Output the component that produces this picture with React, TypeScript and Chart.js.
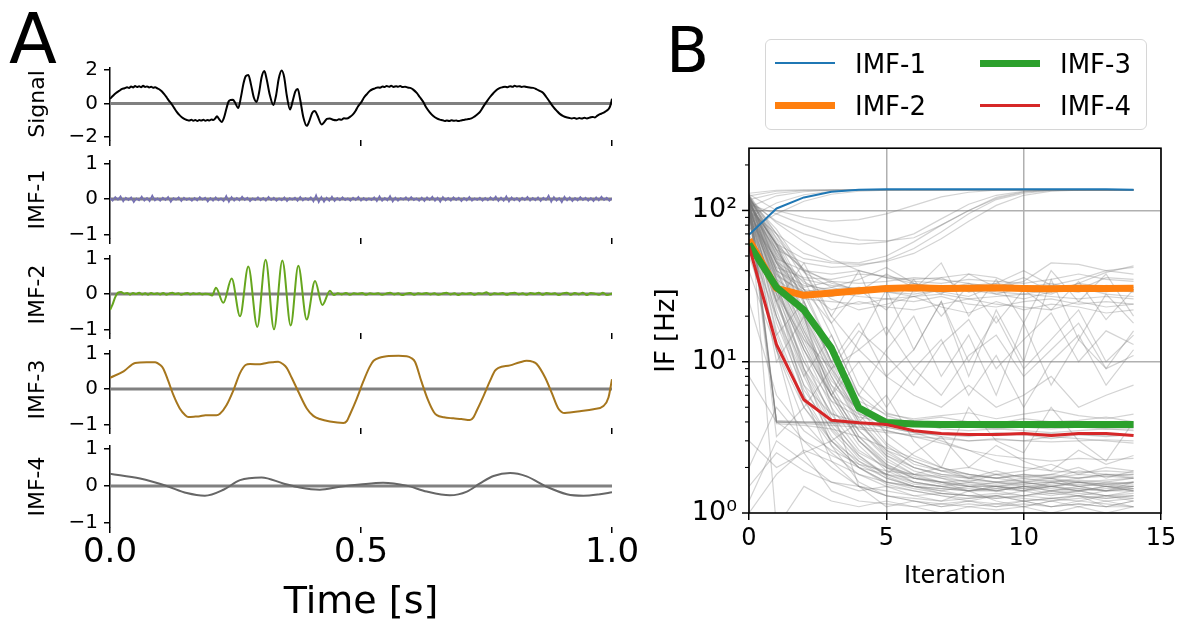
import React, { useEffect, useRef } from 'react';
import { Chart, registerables } from 'chart.js';
Chart.register(...registerables);

const FONT = "'DejaVu Sans', sans-serif";

// ---------------- Panel A data ----------------
const timeTicks = [0, 0.5, 1];
const signalTicks = [-2, 0, 2];
const imfTicks = [-1, 0, 1];

// [time (s), value]
const signalPoints = [
  [0, 0.27], [0.006, 0.45], [0.012, 0.62], [0.018, 0.74], [0.024, 0.86], [0.029, 0.9], [0.034, 0.96], [0.038, 0.92],
  [0.042, 1.0], [0.046, 0.95], [0.05, 1.03], [0.054, 0.97], [0.058, 1.02], [0.062, 0.96], [0.066, 1.04], [0.07, 0.98],
  [0.074, 1.01], [0.078, 0.95], [0.082, 0.99], [0.086, 0.93], [0.09, 0.96], [0.094, 0.9], [0.098, 0.84], [0.103, 0.72],
  [0.108, 0.55], [0.113, 0.35], [0.118, 0.14], [0.123, -0.05], [0.128, -0.28], [0.133, -0.5], [0.138, -0.68], [0.143, -0.82],
  [0.148, -0.92], [0.153, -0.98], [0.158, -1.02], [0.162, -0.97], [0.166, -1.03], [0.17, -0.99], [0.174, -1.04], [0.178, -0.98],
  [0.182, -1.02], [0.186, -0.97], [0.19, -1.03], [0.194, -0.99], [0.198, -1.01], [0.202, -0.96], [0.206, -0.98], [0.21, -0.88],
  [0.213, -0.76], [0.217, -0.92], [0.2225, -1.1], [0.227, -0.85], [0.232, -0.3], [0.236, 0.1], [0.24, 0.2], [0.245, 0.22],
  [0.249, 0.05], [0.2555, -0.27], [0.261, 0.4], [0.266, 1.2], [0.2705, 1.62], [0.2756, 1.69], [0.281, 1.1], [0.2865, 0.35],
  [0.292, 0.09], [0.297, 0.65], [0.302, 1.55], [0.3075, 1.92], [0.312, 1.45], [0.318, 0.55], [0.3254, -0.09], [0.331, 0.5],
  [0.336, 1.45], [0.342, 1.95], [0.347, 1.55], [0.352, 0.5], [0.3586, -0.36], [0.364, 0.15], [0.369, 0.7], [0.374, 0.85],
  [0.379, 0.2], [0.385, -0.8], [0.392, -1.33], [0.397, -1.05], [0.403, -0.55], [0.408, -0.45], [0.413, -0.7], [0.4217, -1.25],
  [0.427, -1.1], [0.432, -0.92], [0.438, -0.89], [0.444, -0.97], [0.4516, -1.0], [0.456, -0.94], [0.461, -0.97], [0.466, -0.88],
  [0.472, -0.9], [0.478, -0.8], [0.484, -0.65], [0.489, -0.45], [0.494, -0.18], [0.501, 0.09], [0.506, 0.35], [0.511, 0.53],
  [0.518, 0.75], [0.523, 0.84], [0.528, 0.89], [0.533, 0.95], [0.538, 0.93], [0.543, 1.0], [0.547, 0.97], [0.551, 1.03],
  [0.556, 0.99], [0.56, 1.04], [0.565, 0.98], [0.57, 1.02], [0.574, 0.99], [0.578, 1.03], [0.583, 0.97], [0.588, 0.99],
  [0.593, 0.94], [0.598, 0.92], [0.604, 0.82], [0.611, 0.62], [0.617, 0.38], [0.624, 0.09], [0.63, -0.24], [0.637, -0.53],
  [0.644, -0.75], [0.651, -0.89], [0.657, -0.96], [0.663, -1.0], [0.667, -1.04], [0.671, -1.01], [0.676, -1.05], [0.68, -1.0],
  [0.685, -1.03], [0.69, -1.01], [0.694, -1.05], [0.698, -1.02], [0.703, -0.99], [0.708, -0.96], [0.714, -0.93], [0.72, -0.89],
  [0.726, -0.78], [0.732, -0.64], [0.737, -0.5], [0.743, -0.22], [0.75, 0.09], [0.757, 0.38], [0.764, 0.62], [0.77, 0.8],
  [0.777, 0.92], [0.782, 0.96], [0.787, 0.99], [0.792, 0.96], [0.797, 1.02], [0.802, 0.99], [0.806, 1.04], [0.81, 1.0],
  [0.815, 1.02], [0.82, 0.98], [0.825, 1.01], [0.83, 0.97], [0.836, 0.94], [0.843, 0.92], [0.849, 0.85], [0.856, 0.74],
  [0.863, 0.62], [0.869, 0.38], [0.876, 0.09], [0.883, -0.2], [0.89, -0.44], [0.896, -0.62], [0.903, -0.75], [0.909, -0.82],
  [0.915, -0.86], [0.92, -0.89], [0.925, -0.86], [0.93, -0.91], [0.935, -0.87], [0.94, -0.9], [0.945, -0.85], [0.95, -0.89],
  [0.956, -0.84], [0.961, -0.8], [0.966, -0.83], [0.971, -0.72], [0.976, -0.64], [0.981, -0.58], [0.986, -0.5], [0.99, -0.42],
  [0.994, -0.3], [0.997, -0.1], [1.0, 0.27],
];

// IMF-1: evenly sampled over 0..1 s
const imf1Values = [
  0.03, -0.05, 0.06, -0.02, 0.08, -0.07, 0.04, -0.03, 0.05, -0.09, 0.02, -0.04, 0.07, -0.05, 0.03, -0.06, 0.1, -0.04, 0.02, -0.05,
  0.04, -0.03, 0.06, -0.08, 0.03, -0.02, 0.05, -0.06, 0.04, -0.03, 0.02, -0.05, 0.03, -0.04, 0.06, -0.02, 0.04, -0.07, 0.03, -0.05,
  0.05, -0.04, 0.02, -0.06, 0.09, -0.08, 0.06, -0.05, 0.03, -0.04, 0.07, -0.03, 0.04, -0.06, 0.02, -0.03, 0.05, -0.04, 0.03, -0.05,
  0.06, -0.03, 0.04, -0.05, 0.02, -0.04, 0.05, -0.06, 0.03, -0.02, 0.04, -0.05, 0.06, -0.04, 0.03, -0.03, 0.05, -0.07, 0.11, -0.09,
  0.06, -0.08, 0.04, -0.05, 0.07, -0.06, 0.03, -0.04, 0.05, -0.03, 0.02, -0.05, 0.04, -0.03, 0.06, -0.05, 0.03, -0.04, 0.02, -0.03,
  0.05, -0.06, 0.08, -0.05, 0.03, -0.04, 0.09, -0.07, 0.04, -0.05, 0.03, -0.02, 0.05, -0.04, 0.06, -0.03, 0.02, -0.05, 0.04, -0.06,
  0.05, -0.03, 0.07, -0.05, 0.04, -0.08, 0.06, -0.04, 0.03, -0.05, 0.05, -0.03, 0.04, -0.06, 0.03, -0.04, 0.06, -0.05, 0.02, -0.03,
  0.04, -0.05, 0.03, -0.04, 0.05, -0.03, 0.07, -0.06, 0.04, -0.05, 0.08, -0.07, 0.05, -0.04, 0.03, -0.06, 0.04, -0.03, 0.06, -0.05,
  0.03, -0.04, 0.05, -0.06, 0.04, -0.03, 0.1, -0.08, 0.06, -0.05, 0.03, -0.09, 0.07, -0.04, 0.05, -0.06, 0.03, -0.04, 0.06, -0.03,
  0.04, -0.05, 0.03, -0.06, 0.05, -0.04, 0.07, -0.03, 0.04, -0.05, 0.02,
];

const imf2Points = [
  [0, -0.45], [0.005, -0.3], [0.01, -0.1], [0.016, 0.04], [0.022, 0.06], [0.028, 0.01], [0.034, 0.03], [0.04, -0.02],
  [0.046, 0.03], [0.052, 0.0], [0.058, 0.04], [0.064, -0.01], [0.07, 0.02], [0.076, -0.02], [0.082, 0.03], [0.088, 0.0],
  [0.094, 0.02], [0.1, -0.01], [0.106, 0.03], [0.112, -0.02], [0.118, 0.01], [0.124, 0.04], [0.13, 0.0], [0.136, 0.02],
  [0.142, -0.02], [0.148, 0.01], [0.154, 0.03], [0.16, -0.01], [0.166, 0.02], [0.172, 0.0], [0.178, 0.02], [0.184, -0.01],
  [0.19, 0.01], [0.196, 0.0], [0.2035, -0.04], [0.211, 0.18], [0.2257, -0.25], [0.2424, 0.44], [0.259, -0.63], [0.2755, 0.78],
  [0.2934, -0.93], [0.31, 0.97], [0.3267, -1.0], [0.3433, 0.95], [0.36, -0.89], [0.3751, 0.8], [0.3918, -0.72], [0.4084, 0.37],
  [0.423, -0.31], [0.4382, 0.09], [0.446, -0.03], [0.454, 0.02], [0.462, -0.01], [0.47, 0.03], [0.478, -0.02], [0.486, 0.02],
  [0.494, 0.0], [0.502, 0.03], [0.51, -0.02], [0.518, 0.02], [0.526, 0.0], [0.534, 0.02], [0.542, -0.02], [0.55, 0.01],
  [0.558, 0.04], [0.566, -0.01], [0.574, 0.02], [0.582, -0.03], [0.59, 0.01], [0.598, 0.03], [0.606, -0.02], [0.614, 0.02],
  [0.622, 0.0], [0.63, 0.03], [0.638, -0.01], [0.646, 0.02], [0.654, -0.02], [0.662, 0.01], [0.67, 0.04], [0.678, -0.01],
  [0.686, 0.02], [0.694, -0.03], [0.702, 0.02], [0.71, 0.0], [0.718, 0.03], [0.726, -0.02], [0.734, 0.02], [0.742, 0.01],
  [0.75, 0.05], [0.758, -0.02], [0.766, 0.02], [0.774, 0.0], [0.782, 0.03], [0.79, -0.02], [0.798, 0.02], [0.806, 0.04],
  [0.814, -0.01], [0.822, 0.02], [0.83, -0.02], [0.838, 0.03], [0.846, 0.0], [0.854, 0.04], [0.862, -0.02], [0.87, 0.03],
  [0.878, 0.0], [0.886, 0.02], [0.894, -0.03], [0.902, 0.02], [0.91, 0.04], [0.918, -0.02], [0.926, 0.03], [0.934, -0.01],
  [0.942, 0.04], [0.95, -0.03], [0.958, 0.03], [0.966, 0.01], [0.974, -0.02], [0.982, 0.04], [0.99, -0.03], [1.0, 0.02],
];

const imf3Points = [
  [0, 0.32], [0.027, 0.5], [0.05, 0.74], [0.073, 0.76], [0.09, 0.76], [0.1, 0.68], [0.106, 0.58], [0.116, 0.23],
  [0.126, -0.16], [0.139, -0.55], [0.15, -0.74], [0.156, -0.79], [0.17, -0.78], [0.179, -0.77], [0.19, -0.74], [0.199, -0.74],
  [0.212, -0.74], [0.219, -0.7], [0.232, -0.46], [0.246, -0.03], [0.259, 0.45], [0.27, 0.68], [0.279, 0.71], [0.299, 0.7],
  [0.312, 0.74], [0.325, 0.76], [0.335, 0.77], [0.345, 0.7], [0.352, 0.6], [0.362, 0.32], [0.375, -0.07], [0.392, -0.55],
  [0.405, -0.76], [0.418, -0.85], [0.438, -0.92], [0.465, -0.96], [0.472, -0.9], [0.478, -0.72], [0.491, -0.29], [0.505, 0.23],
  [0.517, 0.62], [0.525, 0.8], [0.54, 0.9], [0.551, 0.93], [0.575, 0.94], [0.591, 0.93], [0.6, 0.88], [0.608, 0.76],
  [0.62, 0.23], [0.634, -0.33], [0.645, -0.65], [0.651, -0.74], [0.665, -0.8], [0.684, -0.83], [0.7, -0.85], [0.717, -0.88],
  [0.724, -0.8], [0.73, -0.63], [0.744, -0.2], [0.757, 0.23], [0.767, 0.52], [0.774, 0.6], [0.797, 0.67], [0.815, 0.75],
  [0.83, 0.8], [0.843, 0.77], [0.85, 0.71], [0.867, 0.32], [0.88, -0.11], [0.893, -0.55], [0.906, -0.68], [0.92, -0.66],
  [0.936, -0.63], [0.963, -0.57], [0.983, -0.48], [0.993, -0.24], [1.0, 0.28],
];

const imf4Points = [
  [0, 0.33], [0.06, 0.2], [0.113, 0.0], [0.153, -0.19], [0.189, -0.26], [0.226, -0.1], [0.259, 0.16], [0.302, 0.23],
  [0.345, 0.07], [0.378, -0.04], [0.418, -0.1], [0.458, -0.02], [0.498, 0.04], [0.544, 0.09], [0.591, 0.01], [0.631, -0.15],
  [0.677, -0.25], [0.711, -0.15], [0.737, 0.07], [0.764, 0.27], [0.797, 0.35], [0.83, 0.26], [0.87, -0.02], [0.91, -0.22],
  [0.943, -0.26], [0.976, -0.22], [1.0, -0.17],
];

// ---------------- Panel B data ----------------
const iterations = [0, 1, 2, 3, 4, 5, 6, 7, 8, 9, 10, 11, 12, 13, 14];
const iterTicks = [0, 5, 10, 15];
const ifTicks = [1, 2, 3, 4, 5, 6, 7, 8, 9, 10, 20, 30, 40, 50, 60, 70, 80, 90, 100, 200];
const ifImf1 = [69, 103, 122, 133, 137, 138, 138, 138, 138, 138, 138, 138, 138, 138, 137];
const ifImf2 = [64, 30.5, 27.5, 28.5, 29.5, 30.5, 30.8, 30.5, 30.6, 30.8, 30.5, 30.4, 30.6, 30.5, 30.6];
const ifImf3 = [60, 31, 22, 12.3, 4.95, 3.96, 3.87, 3.85, 3.85, 3.85, 3.85, 3.85, 3.85, 3.85, 3.85];
const ifImf4 = [58, 13, 5.6, 4.1, 3.95, 3.85, 3.5, 3.35, 3.3, 3.3, 3.35, 3.25, 3.35, 3.35, 3.25];

// individual trials (grey)
const ifTrials = [
  [125, 134, 136, 137, 137, 137, 137, 137, 137, 137, 137, 137, 137, 137, 137],
  [118, 130, 135, 136, 137, 137, 137, 137, 137, 137, 137, 137, 137, 137, 137],
  [130, 136, 137, 137, 137, 137, 137, 137, 137, 137, 137, 137, 137, 137, 137],
  [105, 125, 133, 136, 137, 137, 137, 137, 137, 137, 137, 137, 137, 137, 137],
  [90, 112, 127, 134, 136, 137, 137, 137, 137, 137, 137, 137, 137, 137, 137],
  [75, 95, 115, 128, 134, 136, 137, 137, 137, 137, 137, 137, 137, 137, 137],
  [110, 60, 48, 45, 44, 46, 52, 65, 85, 108, 126, 134, 136, 137, 137],
  [100, 55, 45, 42, 43, 47, 56, 72, 95, 118, 130, 135, 137, 137, 137],
  [120, 70, 52, 46, 45, 50, 62, 80, 100, 120, 132, 136, 137, 137, 137],
  [115, 85, 70, 62, 60, 62, 70, 88, 110, 126, 134, 136, 137, 137, 137],
  [110, 95, 80, 70, 64, 63, 66, 80, 100, 122, 133, 137, 137, 137, 137],
  [128, 100, 90, 85, 87, 95, 108, 123, 132, 136, 137, 137, 137, 137, 137],
  [115, 40, 32, 30, 31, 30, 31, 29, 30, 31, 30, 29, 31, 30, 30],
  [105, 45, 30, 28, 29, 31, 30, 32, 29, 30, 32, 30, 29, 31, 30],
  [120, 50, 35, 32, 30, 29, 28, 30, 31, 29, 28, 30, 31, 30, 29],
  [95, 38, 28, 27, 30, 32, 30, 29, 30, 30, 31, 33, 30, 29, 31],
  [110, 60, 40, 34, 33, 34, 36, 35, 33, 31, 34, 45, 44, 40, 42],
  [100, 42, 36, 35, 38, 37, 34, 33, 35, 34, 33, 35, 38, 35, 34],
  [90, 35, 26, 25, 24, 26, 25, 27, 24, 23, 25, 26, 24, 25, 24],
  [125, 55, 30, 22, 25, 23, 22, 24, 26, 24, 23, 22, 25, 23, 24],
  [100, 40, 30, 18, 30, 22, 35, 20, 32, 18, 30, 22, 34, 19, 30],
  [85, 48, 40, 38, 40, 36, 35, 36, 38, 36, 30, 32, 35, 40, 38],
  [115, 52, 33, 29, 27, 26, 27, 28, 26, 27, 28, 27, 26, 27, 26],
  [114, 45, 28, 27, 31, 29, 27, 30, 33, 28, 26, 29, 31, 28, 27],
  [103, 37, 29, 31, 28, 30, 33, 29, 27, 32, 30, 28, 33, 31, 29],
  [122, 58, 41, 33, 30, 31, 29, 31, 30, 28, 31, 30, 29, 32, 31],
  [96, 46, 34, 26, 22, 24, 27, 23, 21, 25, 22, 24, 23, 21, 22],
  [126, 66, 39, 31, 35, 42, 33, 28, 38, 31, 36, 29, 33, 39, 43],
  [116, 54, 31, 34, 29, 38, 31, 36, 29, 33, 40, 32, 30, 36, 35],
  [119, 83, 62, 48, 40, 36, 33, 31, 32, 33, 31, 30, 32, 31, 30],
  [120, 4.0, 4.0, 4.0, 3.95, 3.9, 3.8, 3.7, 3.7, 3.6, 3.7, 3.6, 3.7, 3.6, 3.6],
  [110, 4.0, 3.98, 3.97, 3.95, 3.9, 3.9, 3.8, 3.8, 3.7, 3.7, 3.8, 3.7, 3.7, 3.7],
  [128, 4.1, 4.0, 3.95, 3.9, 3.85, 3.8, 3.9, 3.8, 3.85, 3.8, 3.75, 3.8, 3.85, 3.8],
  [111, 4.0, 3.9, 3.8, 3.7, 3.5, 3.2, 2.9, 2.6, 2.4, 2.3, 2.2, 2.3, 2.25, 2.3],
  [129, 4.0, 3.95, 3.9, 3.85, 3.7, 3.4, 3.0, 2.6, 2.2, 2.0, 1.9, 1.85, 1.9, 1.85],
  [101, 3.9, 3.8, 3.6, 3.2, 2.7, 2.3, 2.0, 1.8, 1.7, 1.6, 1.65, 1.6, 1.55, 1.6],
  [125, 30, 12, 6, 4.5, 4.0, 3.9, 3.8, 3.9, 3.8, 3.7, 3.8, 3.9, 3.8, 3.7],
  [115, 45, 20, 9, 5, 4.2, 4.0, 3.6, 3.5, 3.6, 3.5, 3.4, 3.5, 3.6, 3.5],
  [100, 25, 10, 5.5, 4.3, 4.0, 4.1, 4.3, 4.0, 3.9, 4.2, 4.0, 4.1, 4.3, 4.0],
  [108, 60, 25, 10, 5.5, 4.5, 4.2, 4.4, 4.6, 4.2, 4.5, 4.8, 4.4, 4.2, 4.5],
  [95, 20, 7, 4.5, 4.0, 3.7, 3.4, 3.3, 3.2, 3.4, 3.3, 3.1, 3.3, 3.2, 3.3],
  [120, 35, 15, 7, 4.8, 4.0, 3.5, 3.2, 3.0, 3.1, 3.0, 3.2, 3.1, 3.0, 2.9],
  [113, 52, 21, 8.5, 4.6, 3.5, 3.2, 3.1, 3.0, 3.05, 3.0, 2.95, 3.0, 3.05, 3.0],
  [99, 24, 9, 4.6, 3.6, 3.4, 3.3, 3.35, 3.3, 3.25, 3.3, 3.35, 3.3, 3.25, 3.3],
  [123, 62, 28, 12, 6, 4.4, 3.9, 3.8, 3.75, 3.8, 3.7, 3.75, 3.8, 3.7, 3.75],
  [106, 40, 16, 7.5, 4.8, 4.1, 3.95, 3.9, 3.85, 3.9, 3.85, 3.8, 3.9, 3.85, 3.9],
  [118, 75, 40, 18, 7, 4.6, 4.1, 3.9, 3.95, 3.9, 3.85, 3.9, 3.95, 3.9, 3.85],
  [110, 30, 9, 4, 2.5, 2.0, 1.7, 1.6, 1.5, 1.5, 1.4, 1.5, 1.4, 1.5, 1.5],
  [120, 40, 15, 6, 3, 2, 1.6, 1.5, 1.4, 1.4, 1.3, 1.4, 1.3, 1.4, 1.4],
  [100, 20, 6, 3, 2, 1.6, 1.5, 1.4, 1.3, 1.3, 1.4, 1.3, 1.4, 1.3, 1.3],
  [115, 50, 20, 8, 4, 2.5, 2, 1.8, 1.7, 1.6, 1.7, 1.6, 1.7, 1.8, 1.7],
  [125, 60, 25, 10, 4.5, 2.8, 2.1, 1.9, 1.8, 1.7, 1.8, 1.7, 1.9, 1.8, 1.8],
  [90, 12, 4, 2.5, 1.8, 1.5, 1.4, 1.3, 1.2, 1.3, 1.2, 1.25, 1.2, 1.3, 1.2],
  [105, 35, 12, 5, 2.8, 1.9, 1.6, 1.5, 1.6, 1.5, 1.4, 1.6, 1.5, 1.4, 1.6],
  [118, 45, 18, 7, 3.5, 2.3, 1.8, 1.7, 1.6, 1.8, 1.6, 1.7, 1.5, 1.6, 1.7],
  [98, 25, 8, 3.5, 2.2, 1.7, 1.5, 1.4, 1.5, 1.4, 1.5, 1.4, 1.5, 1.4, 1.5],
  [112, 38, 14, 6, 3, 2.1, 1.7, 1.6, 1.4, 1.5, 1.6, 1.5, 1.6, 1.5, 1.4],
  [122, 55, 22, 9, 4, 2.4, 1.9, 1.7, 1.5, 1.4, 1.5, 1.5, 1.4, 1.3, 1.4],
  [95, 15, 5, 2.8, 2.0, 1.6, 1.45, 1.35, 1.3, 1.35, 1.3, 1.4, 1.35, 1.3, 1.35],
  [108, 28, 10, 4.5, 2.6, 2.0, 1.8, 2.0, 1.7, 1.9, 1.7, 1.8, 2.0, 1.7, 1.9],
  [116, 48, 19, 8, 3.8, 2.6, 2.2, 1.9, 2.0, 1.8, 1.9, 2.1, 1.8, 2.0, 1.9],
  [112, 22, 7, 3.2, 2.1, 1.7, 1.5, 1.45, 1.4, 1.45, 1.4, 1.5, 1.45, 1.4, 1.45],
  [126, 42, 16, 6.5, 3.2, 2.2, 1.8, 1.6, 1.5, 1.6, 1.5, 1.55, 1.6, 1.5, 1.6],
  [102, 18, 6.5, 3.6, 2.4, 1.8, 1.6, 1.5, 1.4, 1.5, 1.45, 1.35, 1.4, 1.5, 1.4],
  [119, 65, 30, 12, 5, 2.9, 2.2, 1.9, 1.7, 1.6, 1.65, 1.7, 1.6, 1.65, 1.7],
  [97, 33, 11, 4.2, 2.4, 1.75, 1.5, 1.35, 1.3, 1.25, 1.3, 1.25, 1.3, 1.25, 1.3],
  [124, 58, 24, 9.5, 4.2, 2.6, 2.0, 1.75, 1.6, 1.55, 1.6, 1.5, 1.6, 1.55, 1.5],
  [109, 26, 8.5, 3.8, 2.3, 1.8, 1.55, 1.5, 1.45, 1.4, 1.5, 1.45, 1.4, 1.45, 1.5],
  [117, 47, 17, 6.5, 3.2, 2.1, 1.75, 1.6, 1.55, 1.5, 1.55, 1.6, 1.5, 1.55, 1.6],
  [93, 16, 5.5, 3, 2.0, 1.55, 1.4, 1.3, 1.25, 1.3, 1.25, 1.2, 1.25, 1.3, 1.25],
  [121, 36, 13, 5.5, 3.0, 2.05, 1.7, 1.55, 1.5, 1.5, 1.45, 1.5, 1.55, 1.5, 1.45],
  [104, 31, 13, 6, 3.5, 2.4, 2.0, 1.8, 1.75, 1.7, 1.8, 1.75, 1.7, 1.8, 1.75],
  [127, 70, 35, 15, 6, 3.3, 2.4, 2.0, 1.8, 1.7, 1.75, 1.8, 1.7, 1.75, 1.8],
  [104, 34, 9, 2.8, 1.6, 1.3, 1.2, 1.15, 1.1, 1.15, 1.2, 1.1, 1.15, 1.1, 1.2],
  [100, 12, 2.5, 1.4, 1.2, 1.15, 1.1, 1.15, 1.2, 1.1, 1.15, 1.1, 1.2, 1.15, 1.1],
  [115, 28, 6, 2.2, 1.5, 1.3, 1.25, 1.2, 1.25, 1.3, 1.2, 1.25, 1.3, 1.2, 1.25],
  [60, 20, 8, 15, 6, 12, 20, 8, 15, 6, 18, 7, 14, 9, 16],
  [80, 30, 12, 6, 10, 5, 9, 14, 6, 11, 5, 10, 15, 7, 12],
  [50, 15, 25, 10, 18, 8, 12, 25, 10, 20, 9, 14, 22, 10, 15],
  [100, 70, 40, 20, 12, 8, 6, 5, 7, 5, 6, 8, 5, 6, 7],
  [107, 3.2, 5, 9, 16, 11, 7, 13, 19, 9, 14, 21, 10, 16, 13],
  [89, 28, 14, 9, 12, 17, 9, 6, 11, 15, 8, 12, 18, 9, 11],
  [3, 2, 2.5, 3, 2.2, 1.8, 2.5, 3.2, 2.0, 2.8, 2.2, 1.9, 2.6, 2.1, 2.4],
  [1.2, 3, 2.2, 1.6, 1.4, 1.5, 1.3, 1.2, 1.4, 1.2, 1.1, 1.2, 1.3, 1.1, 1.2],
  [2, 5, 3, 2, 1.5, 1.3, 1.2, 1.1, 1.2, 1.15, 1.1, 1.2, 1.1, 1.2, 1.1],
  [1.0, 1.8, 2.6, 2.2, 1.8, 1.6, 1.5, 1.45, 1.4, 1.45, 1.5, 1.4, 1.45, 1.4, 1.45],
  [1.5, 2.5, 1.9, 1.6, 1.5, 1.4, 1.3, 1.35, 1.3, 1.25, 1.3, 1.35, 1.3, 1.25, 1.3],
  [8, 4, 3, 2.4, 2.0, 1.8, 1.7, 1.6, 1.65, 1.6, 1.55, 1.6, 1.65, 1.6, 1.55],
  [25, 6, 3.5, 2.6, 2.1, 1.9, 1.8, 1.75, 1.7, 1.8, 1.75, 1.7, 1.8, 1.75, 1.7],
  [120, 0.8, 1.5, 1.2, 1.1, 1.2, 1.1, 1.0, 1.1, 1.05, 1.1, 1.0, 1.1, 1.0, 1.1],
  [110, 60, 20, 5, 1.5, 1.1, 1.2, 1.1, 1.15, 1.1, 1.2, 1.1, 1.15, 1.1, 1.1],
  [40, 12, 5, 3, 4, 6, 3, 2, 5, 3, 2.5, 5, 3, 2.2, 4],
  [70, 25, 45, 20, 40, 15, 30, 45, 20, 35, 18, 40, 25, 38, 20],
  [90, 10, 20, 6, 14, 30, 12, 25, 8, 22, 10, 35, 14, 28, 18],
];

// ---------------- helpers ----------------
const fmtMinus = (v: number) => (v < 0 ? '\u2212' + Math.abs(v) : String(v));
const supers: Record<string, string> = { '0': '\u2070', '1': '\u00b9', '2': '\u00b2', '3': '\u00b3' };
const isPow10 = (v: number) => {
  const e = Math.log10(v);
  return Math.abs(e - Math.round(e)) < 1e-9;
};

// layout of panel A sub-axes (chart-area top/bottom in page px)
const panelA = [
  { label: 'Signal', points: signalPoints, color: '#000000', min: -2.17, max: 2.1, ticks: signalTicks, top: 64, bottom: 144 },
  { label: 'IMF-1', points: null, color: '#7570b3', min: -1.103, max: 1.077, ticks: imfTicks, top: 157, bottom: 242 },
  { label: 'IMF-2', points: imf2Points, color: '#66a61e', min: -1.103, max: 1.077, ticks: imfTicks, top: 252, bottom: 337 },
  { label: 'IMF-3', points: imf3Points, color: '#a6761d', min: -1.103, max: 1.077, ticks: imfTicks, top: 347, bottom: 432 },
  { label: 'IMF-4', points: imf4Points, color: '#666666', min: -1.103, max: 1.077, ticks: imfTicks, top: 442, bottom: 527 },
];
const A_PAD_TOP = 14;
const A_WIDTH = 650;

function canvasBoxA(i: number) {
  const sp = panelA[i];
  const isBottom = i === panelA.length - 1;
  const top = sp.top - A_PAD_TOP;
  const height = isBottom ? 626 - top : sp.bottom - sp.top + A_PAD_TOP + 14;
  return { top, height, isBottom };
}

function configA(i: number): any {
  const sp = panelA[i];
  const { isBottom } = canvasBoxA(i);
  const data =
    sp.points !== null
      ? (sp.points as number[][]).map((p) => ({ x: p[0], y: p[1] }))
      : imf1Values.map((v, k) => ({ x: k / (imf1Values.length - 1), y: v }));
  return {
    type: 'line',
    data: {
      datasets: [
        {
          data,
          borderColor: sp.color,
          borderWidth: i === 1 ? 1.6 : 2,
          pointRadius: 0,
          cubicInterpolationMode: i === 1 ? 'default' : 'monotone',
          order: 0,
        },
        {
          data: [
            { x: 0, y: 0 },
            { x: 1, y: 0 },
          ],
          borderColor: '#808080',
          borderWidth: 3,
          pointRadius: 0,
          order: 1,
        },
      ],
    },
    options: {
      responsive: false,
      animation: false,
      devicePixelRatio: 1,
      events: [],
      layout: { padding: { top: A_PAD_TOP, right: A_WIDTH - 612, left: 0, bottom: 0 } },
      plugins: { legend: { display: false }, tooltip: { enabled: false } },
      scales: {
        x: {
          type: 'linear',
          min: 0,
          max: 1,
          afterBuildTicks: (s: any) => {
            s.ticks = timeTicks.map((v) => ({ value: v }));
          },
          afterFit: (s: any) => {
            s.height = isBottom ? 99 : 14;
          },
          grid: { drawOnChartArea: false, drawTicks: true, tickLength: 6, color: '#000', lineWidth: 1.5 },
          border: { display: false },
          ticks: {
            display: isBottom,
            maxRotation: 0,
            autoSkip: false,
            padding: 0,
            color: '#000',
            font: { family: FONT, size: 34 },
            callback: (v: any) => Number(v).toFixed(1),
          },
          title: {
            display: isBottom,
            text: 'Time [s]',
            color: '#000',
            font: { family: FONT, size: 38 },
            padding: { top: 0, bottom: 0 },
          },
        },
        y: {
          min: sp.min,
          max: sp.max,
          afterBuildTicks: (s: any) => {
            s.ticks = sp.ticks.map((v) => ({ value: v }));
          },
          afterFit: (s: any) => {
            s.width = 110;
          },
          grid: { drawOnChartArea: false, drawTicks: true, tickLength: 6, color: '#000', lineWidth: 1.5 },
          border: { display: true, color: '#000', width: 1.5 },
          ticks: {
            autoSkip: false,
            padding: 6,
            color: '#000',
            font: { family: FONT, size: 20 },
            callback: (v: any) => fmtMinus(Number(v)),
          },
          title: {
            display: true,
            text: sp.label,
            color: '#000',
            font: { family: FONT, size: 22 },
            padding: { top: 25, bottom: 0 },
          },
        },
      },
    },
  };
}

const frameAndTicks = {
  id: 'frameAndTicks',
  afterDraw(chart: any) {
    const { ctx, chartArea: a, scales } = chart;
    const ys = scales.y;
    ctx.save();
    ctx.strokeStyle = '#000';
    ys.ticks.forEach((t: any) => {
      const p = ys.getPixelForValue(t.value);
      const major = isPow10(t.value);
      ctx.lineWidth = major ? 1.5 : 1.1;
      const len = major ? 7 : 4;
      ctx.beginPath();
      ctx.moveTo(a.left - len, p);
      ctx.lineTo(a.left, p);
      ctx.stroke();
    });
    ctx.lineWidth = 1.6;
    ctx.strokeRect(a.left, a.top, a.right - a.left, a.bottom - a.top);
    ctx.restore();
  },
};

const B_LEFT = 640;
const B_TOP = 120;
const B_W = 546;
const B_H = 506;

function configB(): any {
  const toPts = (arr: number[]) => arr.map((v, k) => ({ x: iterations[k], y: v }));
  const grey = ifTrials.map((run) => ({
    data: toPts(run),
    borderColor: 'rgba(120,120,120,0.33)',
    borderWidth: 1.2,
    pointRadius: 0,
    order: 10,
  }));
  const main = [
    { label: 'IMF-1', arr: ifImf1, color: '#1f77b4', w: 2, order: 3 },
    { label: 'IMF-2', arr: ifImf2, color: '#ff7f0e', w: 7, order: 2 },
    { label: 'IMF-3', arr: ifImf3, color: '#2ca02c', w: 7, order: 1 },
    { label: 'IMF-4', arr: ifImf4, color: '#d62728', w: 3, order: 0 },
  ].map((m) => ({
    label: m.label,
    data: toPts(m.arr),
    borderColor: m.color,
    borderWidth: m.w,
    pointRadius: 0,
    borderJoinStyle: 'round',
    order: m.order,
  }));
  return {
    type: 'line',
    data: { datasets: [...grey, ...main] },
    options: {
      responsive: false,
      animation: false,
      devicePixelRatio: 1,
      events: [],
      layout: { padding: { top: 18, right: B_W - (1161 - B_LEFT), left: 0, bottom: 0 } },
      plugins: { legend: { display: false }, tooltip: { enabled: false } },
      scales: {
        x: {
          type: 'linear',
          min: 0,
          max: 15,
          afterBuildTicks: (s: any) => {
            s.ticks = iterTicks.map((v) => ({ value: v }));
          },
          afterFit: (s: any) => {
            s.height = 113;
          },
          grid: {
            color: '#b0b0b0',
            lineWidth: 1.5,
            drawTicks: true,
            tickLength: 7,
            tickColor: '#000',
            tickWidth: 1.5,
          },
          border: { display: false },
          ticks: {
            autoSkip: false,
            maxRotation: 0,
            padding: 4,
            color: '#000',
            font: { family: FONT, size: 24 },
            callback: (v: any) => String(v),
          },
          title: {
            display: true,
            text: 'Iteration',
            color: '#000',
            font: { family: FONT, size: 24 },
            padding: { top: 0, bottom: 35 },
          },
        },
        y: {
          type: 'logarithmic',
          min: 1,
          max: 258,
          afterBuildTicks: (s: any) => {
            s.ticks = ifTicks.map((v) => ({ value: v }));
          },
          afterFit: (s: any) => {
            s.width = 749 - B_LEFT;
          },
          grid: {
            drawTicks: false,
            lineWidth: 1.5,
            color: (c: any) => {
              const v = c.tick ? c.tick.value : 0;
              return v > 1 && isPow10(v) ? '#b0b0b0' : 'rgba(0,0,0,0)';
            },
          },
          border: { display: false },
          ticks: {
            autoSkip: false,
            padding: 12,
            color: '#000',
            font: { family: FONT, size: 27 },
            callback: (v: any) => {
              const n = Number(v);
              if (!isPow10(n)) return '';
              const e = String(Math.round(Math.log10(n)));
              return '10' + e.split('').map((d) => supers[d]).join('');
            },
          },
          title: {
            display: true,
            text: 'IF [Hz]',
            color: '#000',
            font: { family: FONT, size: 26 },
            padding: { top: 12, bottom: 0 },
          },
        },
      },
    },
    plugins: [frameAndTicks],
  };
}

const legendItems = [
  { label: 'IMF-1', color: '#1f77b4', w: 2, x: 775, y: 63 },
  { label: 'IMF-2', color: '#ff7f0e', w: 7, x: 775, y: 105 },
  { label: 'IMF-3', color: '#2ca02c', w: 7, x: 980, y: 63 },
  { label: 'IMF-4', color: '#d62728', w: 3, x: 980, y: 105 },
];

export default function App() {
  const refs = useRef<(HTMLCanvasElement | null)[]>([]);

  useEffect(() => {
    const charts: any[] = [];
    panelA.forEach((_, i) => {
      const c = refs.current[i];
      if (c) charts.push(new Chart(c, configA(i)));
    });
    const cb = refs.current[panelA.length];
    if (cb) charts.push(new Chart(cb, configB()));
    return () => charts.forEach((ch) => ch.destroy());
  }, []);

  return (
    <div
      style={{
        position: 'fixed',
        left: 0,
        top: 0,
        width: 1186,
        height: 626,
        background: '#fff',
        overflow: 'hidden',
        fontFamily: FONT,
      }}
    >
      {panelA.map((_, i) => {
        const b = canvasBoxA(i);
        return (
          <canvas
            key={i}
            ref={(el) => {
              refs.current[i] = el;
            }}
            width={A_WIDTH}
            height={b.height}
            style={{ position: 'absolute', left: 0, top: b.top, width: A_WIDTH, height: b.height }}
          />
        );
      })}
      <canvas
        ref={(el) => {
          refs.current[panelA.length] = el;
        }}
        width={B_W}
        height={B_H}
        style={{ position: 'absolute', left: B_LEFT, top: B_TOP, width: B_W, height: B_H }}
      />
      <div style={{ position: 'absolute', left: 9, top: 4, fontSize: 70, lineHeight: '70px', color: '#000' }}>A</div>
      <div style={{ position: 'absolute', left: 666, top: 19, fontSize: 63, lineHeight: '63px', color: '#000' }}>B</div>
      <div
        style={{
          position: 'absolute',
          left: 765,
          top: 39,
          width: 382,
          height: 91,
          boxSizing: 'border-box',
          border: '1.5px solid #d6d6d6',
          borderRadius: 6,
          background: 'rgba(255,255,255,0.85)',
        }}
      />
      {legendItems.map((it) => (
        <React.Fragment key={it.label}>
          <div
            style={{
              position: 'absolute',
              left: it.x,
              top: it.y - it.w / 2,
              width: 60,
              height: it.w,
              background: it.color,
            }}
          />
          <div
            style={{
              position: 'absolute',
              left: it.x + 80,
              top: it.y - 0.48 * 26,
              fontSize: 26,
              lineHeight: '26px',
              color: '#000',
              whiteSpace: 'nowrap',
            }}
          >
            {it.label}
          </div>
        </React.Fragment>
      ))}
    </div>
  );
}
